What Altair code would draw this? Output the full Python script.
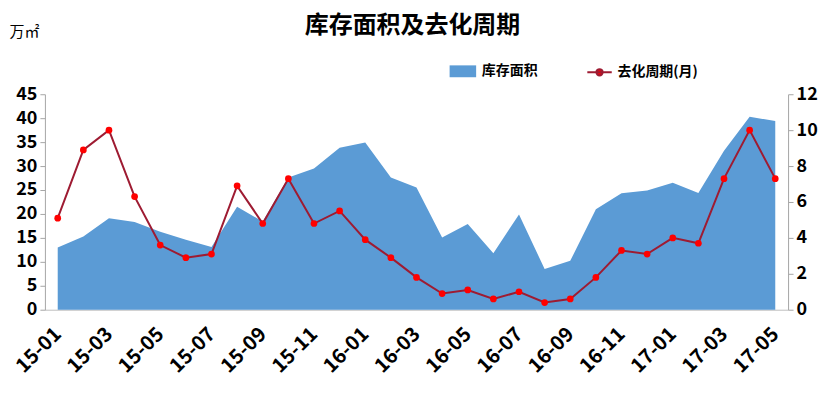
import altair as alt
import pandas as pd

months = ["15-01","15-02","15-03","15-04","15-05","15-06","15-07","15-08","15-09","15-10",
          "15-11","15-12","16-01","16-02","16-03","16-04","16-05","16-06","16-07","16-08",
          "16-09","16-10","16-11","16-12","17-01","17-02","17-03","17-04","17-05"]
inventory = [13.0, 15.3, 19.1, 18.3, 16.3, 14.6, 13.1, 21.5, 18.4, 27.6,
             29.5, 33.8, 34.9, 27.6, 25.5, 15.1, 17.9, 11.8, 19.9, 8.5,
             10.2, 21.0, 24.3, 24.9, 26.5, 24.4, 33.2, 40.3, 39.4]
cycle = [5.1, 8.9, 10.0, 6.3, 3.6, 2.9, 3.1, 6.9, 4.8, 7.3,
         4.8, 5.5, 3.9, 2.9, 1.8, 0.9, 1.1, 0.6, 1.0, 0.4,
         0.6, 1.8, 3.3, 3.1, 4.0, 3.7, 7.3, 10.0, 7.3]
left_ticks = [0, 5, 10, 15, 20, 25, 30, 35, 40, 45]
right_ticks = [0, 2, 4, 6, 8, 10, 12]
x_labels = months[::2]

df = pd.DataFrame({"month": months, "inv": inventory, "cyc": cycle,
                   "s1": "库存面积", "s2": "去化周期(月)"})

FONT = "Noto Sans CJK SC"

x_enc = alt.X("month:O", sort=months,
              scale=alt.Scale(type="point", padding=0.5),
              axis=alt.Axis(values=x_labels, labelAngle=-45, labelAlign="right",
                            labelBaseline="middle", labelFontSize=20, labelFontWeight="bold",
                            labelColor="#000000", labelFont=FONT, ticks=False,
                            domainColor="#BFBFBF", title=None, labelPadding=21))

right_axis = alt.Axis(orient="right", values=right_ticks, grid=False,
                      domainColor="#A6A6A6", tickColor="#A6A6A6", tickSize=5,
                      labelFontSize=18, labelFontWeight="bold", labelColor="#000000",
                      labelFont=FONT, labelPadding=3, title=None)

area = alt.Chart(df).mark_area(opacity=1).encode(
    x=x_enc,
    y=alt.Y("inv:Q", scale=alt.Scale(domain=[0, 45], nice=False),
            axis=alt.Axis(values=left_ticks, grid=False, domainColor="#A6A6A6",
                          tickColor="#A6A6A6", tickSize=5, labelFontSize=18,
                          labelFontWeight="bold", labelColor="#000000", labelFont=FONT,
                          labelPadding=3,
                          title="万㎡", titleAngle=0, titleX=-21, titleY=-63,
                          titleAlign="center", titleBaseline="middle",
                          titleFontSize=15, titleFontWeight="normal", titleFont=FONT,
                          titleColor="#000000")),
    fill=alt.Fill("s1:N", scale=alt.Scale(domain=["库存面积"], range=["#5B9BD5"]),
                  legend=alt.Legend(orient="none", legendX=412, legendY=-30, title=None,
                                    symbolType="M-1.9,-0.85H1.9V0.85H-1.9Z", symbolSize=196,
                                    symbolStrokeWidth=0, labelOffset=12,
                                    labelFontSize=14, labelFontWeight="bold", labelFont=FONT,
                                    labelColor="#000000")),
)

line = alt.Chart(df).mark_line(strokeWidth=2).encode(
    x=x_enc,
    y=alt.Y("cyc:Q", scale=alt.Scale(domain=[0, 12], nice=False), axis=right_axis),
    stroke=alt.Stroke("s2:N", scale=alt.Scale(domain=["去化周期(月)"], range=["#9E1B32"]),
                      legend=alt.Legend(orient="none", legendX=548, legendY=-30, title=None,
                                        symbolType="M-1.75,0H1.75M0.45,0A0.45,0.45 0 1 1 -0.45,0A0.45,0.45 0 1 1 0.45,0Z",
                                        symbolSize=196, symbolStrokeWidth=2,
                                        symbolStrokeColor="#FF0000", symbolFillColor="#FF0000",
                                        labelOffset=10,
                                        labelFontSize=14, labelFontWeight="bold", labelFont=FONT,
                                        labelColor="#000000")),
)

points = alt.Chart(df).mark_point(filled=True, size=45, opacity=1, color="#FF0000").encode(
    x=x_enc,
    y=alt.Y("cyc:Q", scale=alt.Scale(domain=[0, 12], nice=False), axis=right_axis),
)

chart = alt.layer(area, alt.layer(line, points)).resolve_scale(
    y="independent", fill="independent", stroke="independent"
).properties(
    width=745, height=216,
    background="#FFFFFF",
    autosize=alt.AutoSizeParams(type="none"),
    padding={"left": 37, "top": 86, "right": 30, "bottom": 70},
    title=alt.TitleParams("库存面积及去化周期", fontSize=24, fontWeight="bold", font=FONT,
                          anchor="middle", offset=-14, color="#000000", dx=-4),
).configure_view(stroke=None)

chart.save("out.html", embed_options={"renderer": "svg", "actions": False})
